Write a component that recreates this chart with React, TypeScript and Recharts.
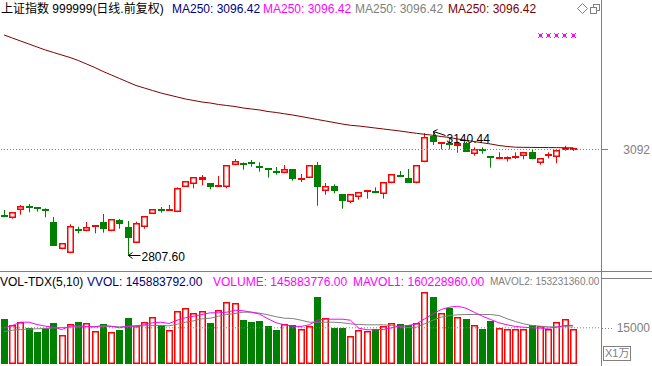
import { ComposedChart, Bar, Line, XAxis, YAxis, ReferenceLine, ReferenceDot } from "recharts";

// 70 trading days shown, 3 empty slots on the right edge
const SLOTS = 73;

const OPEN = [
  2915.1, 2908.7, 2928.6, 2940.1, 2937.2, 2932.1, 2897.1, 2823.7, 2813, 2878.3,
  2872.1, 2884.5, 2897.1, 2872.1, 2902.5, 2883.7, 2839.9, 2882.9, 2918.6, 2931.8,
  2930.8, 2923.2, 2991.2, 2998.5, 3009.2, 3002, 2992, 2992, 3049.5, 3057,
  3059, 3047.5, 3042.3, 3034.2, 3028, 3038.8, 3009.2, 3014.6, 3049.5, 2979.6,
  2993.9, 2972.4, 2950.1, 2963.5, 2977, 2980.2, 2971.6, 3001.1, 3023.5, 3015.4,
  3001.1, 3057.6, 3129.1, 3108.7, 3108.7, 3100.6, 3108.7, 3079.1, 3092.5, 3073.7,
  3070.5, 3067.3, 3071, 3073.7, 3085.3, 3056.5, 3076.4, 3071, 3094.7, 3089.8,
];
const HIGH = [
  2929.4, 2923.2, 2942.8, 2945.5, 2937.2, 2933.9, 2910.6, 2839.9, 2890.9, 2884.5,
  2897.1, 2888.2, 2918.6, 2905.2, 2905.2, 2899.8, 2897.9, 2912.4, 2931.3, 2937.4,
  2942.8, 2990.4, 3006.5, 3017.3, 3023.5, 3002, 3020.8, 3049.5, 3066.5, 3057.5,
  3063.8, 3057.6, 3042.3, 3045, 3050.3, 3038.8, 3026.1, 3049.5, 3058.4, 3002,
  2998.5, 2972.4, 2972.4, 2977.8, 2983.1, 2990.4, 3004.6, 3026.1, 3034.2, 3039.6,
  3050.3, 3136, 3140.44, 3111.4, 3119.4, 3113, 3113, 3097.9, 3097.9, 3073.7,
  3084.5, 3073.7, 3084.5, 3084.5, 3090.7, 3068.3, 3084.5, 3092.5, 3102.2, 3096.8,
];
const LOW = [
  2911.4, 2906, 2916.7, 2923.2, 2924.8, 2909.8, 2833.4, 2823.7, 2813, 2866.7,
  2872.1, 2866.7, 2868.4, 2872.1, 2879.1, 2807.6, 2839.9, 2879.1, 2918.6, 2922.1,
  2927.5, 2923.2, 2991.2, 2987.7, 2995.8, 2985, 2992, 2987.7, 3049.5, 3037.7,
  3045.8, 3032.3, 3016.2, 3024.3, 3028, 3008.1, 3004.6, 3014.6, 2940.9, 2970.5,
  2974.3, 2932.9, 2947.4, 2957.1, 2959.8, 2974.3, 2959.8, 3001.1, 3018.9, 3002.8,
  3001.1, 3057.6, 3104.1, 3092.5, 3092.5, 3083.4, 3086.1, 3075.3, 3080.7, 3043.1,
  3065.7, 3059.2, 3066.5, 3065.7, 3065.7, 3051.1, 3068.3, 3054.9, 3088.8, 3088,
];
const CLOSE = [
  2913.2, 2923.2, 2939.3, 2936.6, 2936.6, 2928.6, 2833.4, 2839.9, 2886.4, 2874.8,
  2882.9, 2888.2, 2879.1, 2905.2, 2892.6, 2854.9, 2893.6, 2912.4, 2931.3, 2930.8,
  2931.8, 2987.7, 3006.5, 3017.3, 3017.3, 2990.4, 2995.8, 3049.5, 3060.3, 3056,
  3058, 3046.5, 3037.7, 3029.6, 3038.8, 3013.5, 3014.6, 3049.5, 2992, 2993.1,
  2981.3, 2954.4, 2972.4, 2977.8, 2983.1, 2979.2, 3004.6, 3026.1, 3018.9, 3002.8,
  3050.3, 3124.8, 3113, 3111.4, 3106, 3108.7, 3086.1, 3092.5, 3089.8, 3071,
  3071.5, 3071, 3075.3, 3084.5, 3065.7, 3068.3, 3079.1, 3090.7, 3095.7, 3095.2,
];
const MA250 = [
  3399.8, 3391.7, 3383.6, 3375.6, 3367.5, 3359.5, 3352.7, 3346, 3339.3, 3331.2,
  3321.8, 3312.4, 3301.7, 3292.3, 3282.8, 3273.4, 3264, 3257.3, 3250.6, 3243.9,
  3238.5, 3233.1, 3227.7, 3223.7, 3219.7, 3217, 3213, 3210.3, 3207.6, 3203.6,
  3200.9, 3198.2, 3194.1, 3191.5, 3188, 3184.7, 3180.7, 3176.7, 3172.6, 3168.6,
  3164.6, 3160.5, 3157.1, 3155.2, 3152.5, 3149.8, 3147.1, 3144.4, 3141.7, 3138.5,
  3135.5, 3132.9, 3130.2, 3126.9, 3124.3, 3120.2, 3116.7, 3113.5, 3110, 3106.8,
  3102.8, 3100.1, 3098.2, 3097.8, 3097.6, 3097.4, 3097.2, 3097, 3096.7, 3096.42,
];

// volume in units of 万 (x10000)
const VOLUME = [
  18855, 16244, 17612, 14836, 13468, 15126, 17198, 12100, 16659, 17612,
  17073, 13758, 16783, 13344, 14007, 19270, 15830, 17612, 19560, 16244,
  14172, 22170, 23289, 21342, 22046, 17198, 22460, 25776, 25361, 18441,
  17612, 18026, 15954, 14297, 16493, 16079, 14587, 15664, 27972, 19145,
  15126, 15126, 11686, 14172, 13882, 14711, 15830, 17073, 16783, 16244,
  17073, 29754, 27682, 21217, 23124, 19560, 18855, 16244, 14711, 17736,
  15126, 14711, 14421, 14421, 16244, 15664, 14711, 17612, 18855, 14588,
];
const MAVOL1 = [
  15001, 15954, 17322, 17322, 16369, 15664, 15250, 14297, 15664, 15830,
  15540, 15416, 15954, 15664, 15001, 15664, 15830, 16244, 17073, 17322,
  16783, 18151, 19145, 19808, 20513, 21217, 21217, 21466, 22295, 22046,
  21466, 20637, 18731, 17073, 16244, 15664, 15540, 16244, 18151, 18565,
  18565, 18565, 18151, 14836, 14172, 14172, 14297, 15001, 15664, 15954,
  16659, 18731, 20800, 22585, 23538, 23952, 23124, 21466, 19808, 18441,
  17073, 16244, 15540, 15250, 15001, 14836, 14836, 15250, 15954, 16023,
];
const MAVOL2 = [
  13468, 14007, 14297, 14440, 14587, 14711, 15001, 15125, 15250, 15416,
  15416, 15416, 15540, 15540, 15416, 15540, 15664, 15830, 15954, 15954,
  15830, 16500, 17322, 17902, 18731, 18980, 19808, 20513, 20927, 21466,
  21466, 21052, 20388, 19560, 18980, 18850, 18151, 17322, 17322, 17322,
  17322, 17073, 16659, 16369, 16244, 16244, 16244, 15954, 15416, 15125,
  15250, 16659, 18151, 19400, 20098, 20388, 20513, 20513, 20513, 20513,
  20098, 18731, 17612, 16659, 15954, 15664, 15416, 15416, 15500, 15323,
];

const WEEK_TICKS = [19.9, 25.2, 30.5, 35.7, 40.9, 46.6, 52.4, 58.1, 63.8];
const PRICE_TICKS = [3092];
const VOL_TICKS = [15000];
const SIGNAL_DAYS = [65, 66, 67, 68, 69];
const SIGNAL_LEVEL = 3398;
const LOW_MARK = { day: 15, value: 2807.6, label: "2807.60" };
const HIGH_MARK = { day: 52, value: 3140.44, label: "3140.44" };

const HEADER = [
  { text: "上证指数 999999(日线.前复权)", color: "#000000", x: 1 },
  { text: "MA250: 3096.42", color: "#000080", x: 172 },
  { text: "MA250: 3096.42", color: "#ff00ff", x: 263 },
  { text: "MA250: 3096.42", color: "#808080", x: 355 },
  { text: "MA250: 3096.42", color: "#800000", x: 448 },
];
const VOL_HEADER = [
  { text: "VOL-TDX(5,10)", color: "#000000", x: 0, size: 12 },
  { text: "VVOL: 145883792.00", color: "#000080", x: 87, size: 12 },
  { text: "VOLUME: 145883776.00", color: "#ff00ff", x: 213, size: 12 },
  { text: "MAVOL1: 160228960.00", color: "#ff00ff", x: 353, size: 12 },
  { text: "MAVOL2: 153231360.00", color: "#808080", x: 490, size: 10 },
];

const RED = "#ff0000";
const GREEN = "#008000";
const GRAY = "#808080";
const FONT = '"Liberation Sans", Arial, "Noto Sans CJK SC", sans-serif';

const rows = Array.from({ length: SLOTS }, (_, i) => {
  const has = i < OPEN.length;
  return {
    i,
    o: has ? OPEN[i] : null,
    h: has ? HIGH[i] : null,
    l: has ? LOW[i] : null,
    c: has ? CLOSE[i] : null,
    hl: has ? [LOW[i], HIGH[i]] : null,
    ma: has ? MA250[i] : null,
    v: has ? VOLUME[i] : null,
    m1: has ? MAVOL1[i] : null,
    m2: has ? MAVOL2[i] : null,
  };
});

function Candle(props: any) {
  const { x, y, width, height, payload } = props;
  if (!payload || payload.o == null) return null;
  const { o, c, h, l } = payload;
  const k = h > l ? height / (h - l) : 0;
  const py = (v: number) => y + (h - v) * k;
  const left = Math.round(x + width / 2 - 3.5);
  const mid = left + 3.5;
  const T = Math.round(py(Math.max(o, c)));
  let B = Math.round(py(Math.min(o, c)));
  const hi = py(h);
  const lo = py(l);
  if (c >= o) {
    if (B - T < 2) B = T + 2;
    return (
      <g>
        {hi < T && <line x1={mid} x2={mid} y1={hi} y2={T} stroke={RED} />}
        {lo > B && <line x1={mid} x2={mid} y1={B} y2={lo} stroke={RED} />}
        {B - T <= 3 ? (
          <rect x={left} y={T} width={7} height={B - T} fill={RED} />
        ) : (
          <rect x={left + 0.75} y={T + 0.75} width={5.5} height={B - T - 1.5} fill="none" stroke={RED} strokeWidth={1.5} />
        )}
      </g>
    );
  }
  if (B - T < 2) B = T + 2;
  return (
    <g>
      <line x1={mid} x2={mid} y1={hi} y2={lo} stroke={GREEN} />
      <rect x={left} y={T} width={7} height={B - T} fill={GREEN} />
    </g>
  );
}

function VolBar(props: any) {
  const { x, y, width, height, payload } = props;
  if (!payload || payload.v == null) return null;
  const left = Math.round(x + width / 2 - 3.5);
  const T = Math.round(y);
  const B = Math.round(y + height);
  if (payload.c >= payload.o) {
    return <rect x={left + 0.75} y={T + 0.75} width={5.5} height={B - T - 1.5} fill="none" stroke={RED} strokeWidth={1.5} />;
  }
  return <rect x={left} y={T} width={7} height={B - T} fill={GREEN} />;
}

function SignalMark(props: any) {
  const { cx, cy } = props;
  if (cx == null || cy == null) return null;
  const x = Math.round(cx - 0.5);
  const y = Math.round(cy - 0.5);
  return (
    <g fill="#ff00ff">
      <rect x={x - 1} y={y - 1} width={3} height={3} />
      <rect x={x - 2} y={y - 2} width={1} height={1} />
      <rect x={x + 2} y={y - 2} width={1} height={1} />
      <rect x={x - 2} y={y + 2} width={1} height={1} />
      <rect x={x + 2} y={y + 2} width={1} height={1} />
    </g>
  );
}

function LowTag(props: any) {
  const { cx, cy } = props;
  if (cx == null) return null;
  const x = Math.round(cx) + 0.5;
  const y = Math.round(cy) + 0.5;
  return (
    <g>
      <line x1={x} y1={y} x2={x + 12} y2={y} stroke="#000" />
      <polyline points={`${x + 4},${y - 3} ${x},${y} ${x + 4},${y + 3}`} fill="none" stroke="#000" />
      <text x={x + 13} y={y + 5} fontSize={12} fill="#000" style={{ fontFamily: FONT }}>
        {LOW_MARK.label}
      </text>
    </g>
  );
}

function HighTag(props: any) {
  const { cx, cy } = props;
  if (cx == null) return null;
  const x = Math.round(cx) + 0.5;
  const y = Math.round(cy) + 0.5;
  return (
    <g>
      <line x1={x} y1={y} x2={x + 12} y2={y + 4} stroke="#000" />
      <polyline points={`${x + 4},${y - 2} ${x},${y} ${x + 2},${y + 4}`} fill="none" stroke="#000" />
      <text x={x + 13} y={y + 11} fontSize={12} fill="#000" style={{ fontFamily: FONT }}>
        {HIGH_MARK.label}
      </text>
    </g>
  );
}

function PriceTick(props: any) {
  const { y, payload } = props;
  return (
    <text x={650} y={y + 4} textAnchor="end" fontSize={12} fill={GRAY} style={{ fontFamily: FONT }}>
      {payload.value}
    </text>
  );
}

function VolTick(props: any) {
  const { y, payload } = props;
  return (
    <g>
      <line x1={602} x2={613} y1={Math.round(y) + 0.5} y2={Math.round(y) + 0.5} stroke={GRAY} strokeDasharray="1 2" />
      <text x={650} y={y + 4} textAnchor="end" fontSize={12} fill={GRAY} style={{ fontFamily: FONT }}>
        {payload.value}
      </text>
    </g>
  );
}

const textStyle = (x: number, top: number, color: string, size = 12): React.CSSProperties => ({
  position: "absolute",
  left: x,
  top,
  color,
  fontSize: size,
  lineHeight: "14px",
  whiteSpace: "nowrap",
});

export default function App() {
  return (
    <div
      style={{
        position: "absolute",
        left: 0,
        top: 0,
        width: 652,
        height: 366,
        overflow: "hidden",
        background: "#fff",
        fontFamily: FONT,
      }}
    >
      <div style={{ position: "absolute", left: 0, top: 0 }}>
        <ComposedChart width={652} height={272} data={rows} margin={{ top: 0, right: 0, bottom: 0, left: 0 }}>
          <XAxis dataKey="i" hide />
          <YAxis
            orientation="right"
            width={50}
            domain={[2762.7, 3493.9]}
            ticks={PRICE_TICKS}
            allowDataOverflow
            axisLine={false}
            tickLine={{ stroke: GRAY }}
            tickSize={6}
            tick={PriceTick}
            interval={0}
          />
          <ReferenceLine y={3092} stroke={GRAY} strokeDasharray="1 2" />
          <Bar dataKey="hl" shape={Candle} isAnimationActive={false} />
          <Line dataKey="ma" stroke="#800000" strokeWidth={1} dot={false} activeDot={false} isAnimationActive={false} />
          {SIGNAL_DAYS.map((d) => (
            <ReferenceDot key={d} x={d} y={SIGNAL_LEVEL} shape={SignalMark} />
          ))}
          <ReferenceDot x={LOW_MARK.day} y={LOW_MARK.value} shape={LowTag} />
          <ReferenceDot x={HIGH_MARK.day} y={HIGH_MARK.value} shape={HighTag} />
        </ComposedChart>
      </div>

      <div style={{ position: "absolute", left: 0, top: 290 }}>
        <ComposedChart width={652} height={76} data={rows} margin={{ top: 0, right: 0, bottom: 0, left: 0 }}>
          <XAxis dataKey="i" hide />
          <XAxis
            xAxisId="wk"
            type="number"
            domain={[-0.5, 72.5]}
            ticks={WEEK_TICKS}
            interval={0}
            allowDataOverflow
            height={2}
            tickSize={2}
            axisLine={{ stroke: GRAY }}
            tickLine={{ stroke: GRAY }}
            tick={() => <g />}
          />
          <YAxis
            orientation="right"
            width={50}
            domain={[0, 30667]}
            ticks={VOL_TICKS}
            allowDataOverflow
            axisLine={false}
            tickLine={false}
            tick={VolTick}
            interval={0}
          />
          <ReferenceLine y={15000} stroke={GRAY} strokeDasharray="1 2" />
          <Bar dataKey="v" shape={VolBar} isAnimationActive={false} />
          <Line dataKey="m2" stroke={GRAY} strokeWidth={1} dot={false} activeDot={false} isAnimationActive={false} />
          <Line dataKey="m1" stroke="#ff00ff" strokeWidth={1} dot={false} activeDot={false} isAnimationActive={false} />
        </ComposedChart>
      </div>

      {HEADER.map((h) => (
        <span key={h.x} style={textStyle(h.x, 2, h.color)}>
          {h.text}
        </span>
      ))}

      <div style={{ position: "absolute", left: 0, top: 274, width: 602, height: 16, overflow: "hidden" }}>
        {VOL_HEADER.map((h) => (
          <span key={h.x} style={textStyle(h.x, 1, h.color, h.size)}>
            {h.text}
          </span>
        ))}
      </div>

      {/* panel frame */}
      <div style={{ position: "absolute", left: 601, top: 0, width: 1, height: 366, background: GRAY }} />
      <div style={{ position: "absolute", left: 0, top: 271, width: 652, height: 1, background: GRAY }} />
      <div style={{ position: "absolute", left: 602, top: 278, width: 50, height: 1, background: GRAY }} />

      <svg style={{ position: "absolute", left: 575, top: 2 }} width={27} height={14}>
        <polygon points="7.5,1.5 12.5,6.5 7.5,11.5 2.5,6.5" fill="none" stroke={GRAY} />
        <rect x={18.5} y={2.5} width={6} height={6} fill="none" stroke={GRAY} />
        <rect x={15.5} y={5.5} width={6} height={6} fill="#fff" stroke={GRAY} />
      </svg>

      <div
        style={{
          position: "absolute",
          left: 603,
          top: 346,
          border: `1px solid ${GRAY}`,
          color: GRAY,
          fontSize: 11,
          lineHeight: "13px",
          padding: "0 1px",
          whiteSpace: "nowrap",
        }}
      >
        X1万
      </div>
    </div>
  );
}
